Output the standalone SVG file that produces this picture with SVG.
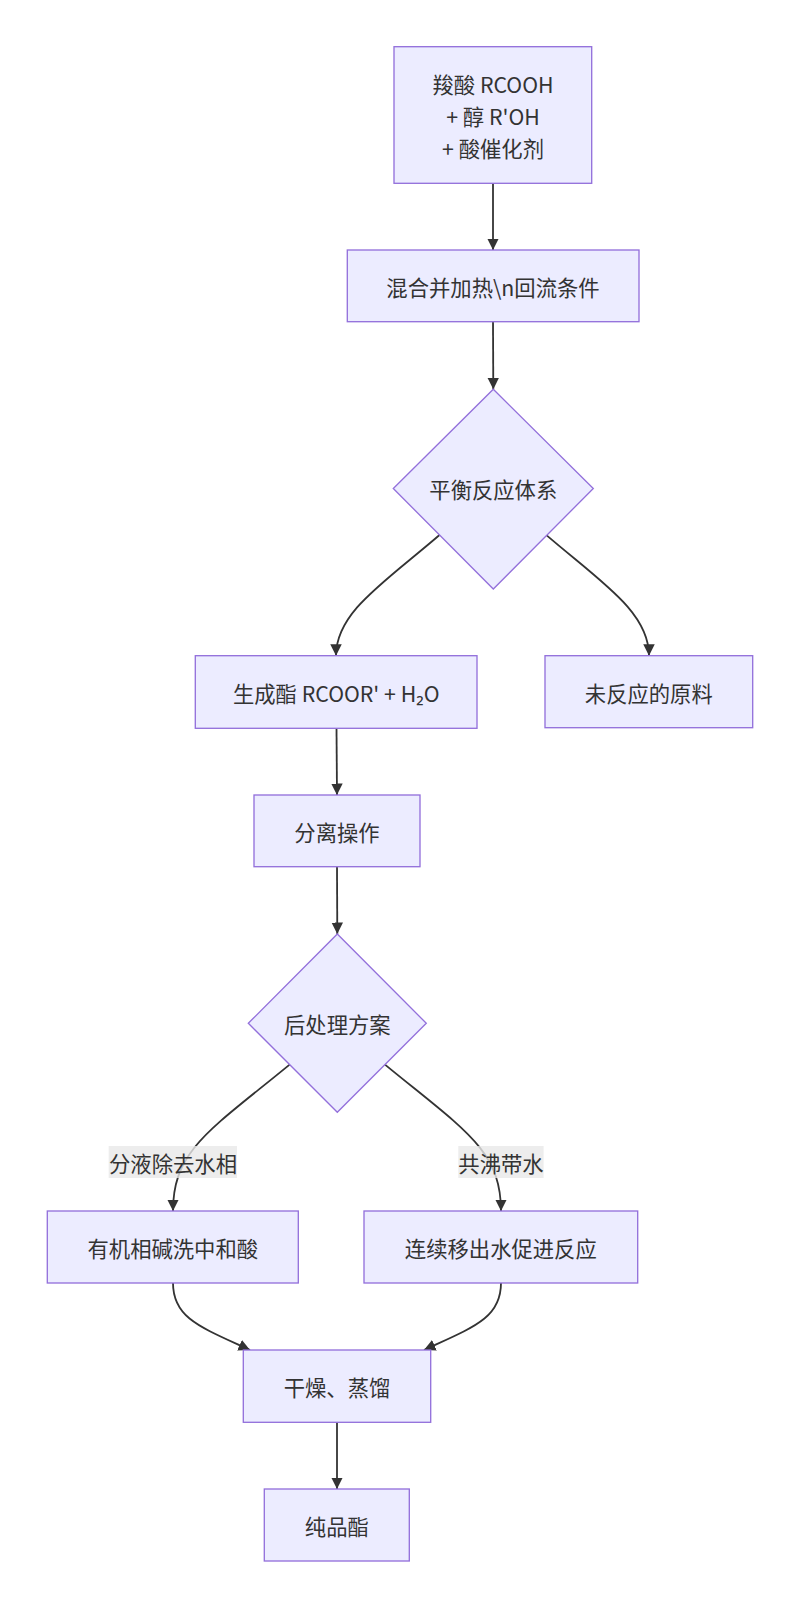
<svg xmlns="http://www.w3.org/2000/svg" width="800" height="1608" viewBox="0 0 800 1608">
<defs>
<style>
.node rect, .node polygon { fill: #ECECFF; stroke: #9370DB; stroke-width: 1.33; }
.node text, .elabel text { font-family: "Noto Sans CJK SC", "Noto Sans", sans-serif; font-size: 21.33px; fill: #333333; text-anchor: middle; dominant-baseline: central; }
.edges path { fill: none; stroke: #333333; stroke-width: 1.8; }
.elabel rect { fill: #e8e8e8; opacity: 0.8; }
</style>
<marker id="arrow" viewBox="0 0 10 10" refX="10" refY="5" markerUnits="userSpaceOnUse" markerWidth="11.5" markerHeight="11.5" orient="auto">
<path d="M0,0 L10,5 L0,10 z" fill="#333333"/>
</marker>
</defs>
<rect width="800" height="1608" fill="#ffffff"/>
<g class="edges">
<path d="M493,183.3 L493,250" marker-end="url(#arrow)"/>
<path d="M493,321.7 L493.3,389.3" marker-end="url(#arrow)"/>
<path d="M439.5,535 C385,582 336,612 336,655.7" marker-end="url(#arrow)"/>
<path d="M546.7,535.4 C601,582 649,612 649,655.7" marker-end="url(#arrow)"/>
<path d="M336.5,728.3 L337,795" marker-end="url(#arrow)"/>
<path d="M337,866.7 L337.3,934" marker-end="url(#arrow)"/>
<path d="M289.6,1064.6 C210,1130 173,1150 173,1211" marker-end="url(#arrow)"/>
<path d="M385,1064.6 C464.6,1130 501,1150 501,1211" marker-end="url(#arrow)"/>
<path d="M173,1283 C173,1318 200,1327 250,1350" marker-end="url(#arrow)"/>
<path d="M501,1283 C501,1318 474,1327 424,1350" marker-end="url(#arrow)"/>
<path d="M337,1422.3 L337,1489" marker-end="url(#arrow)"/>
</g>
<g class="elabel" id="label-fenye">
<rect x="108.7" y="1146" width="128.3" height="32"/>
<text x="173" y="1162">分液除去水相</text>
</g>
<g class="elabel" id="label-gongfei">
<rect x="458.3" y="1146" width="85.3" height="32"/>
<text x="501" y="1162">共沸带水</text>
</g>
<g class="node" id="n-start">
<rect x="394" y="46.7" width="197.7" height="136.6"/>
<text x="493" y="83">羧酸 RCOOH</text>
<text x="493" y="115">+ 醇 R'OH</text>
<text x="493" y="147">+ 酸催化剂</text>
</g>
<g class="node" id="n-mix">
<rect x="347.3" y="250" width="291.7" height="71.7"/>
<text x="493" y="286">混合并加热\n回流条件</text>
</g>
<g class="node" id="n-eq">
<polygon points="493.3,389.3 593.3,488.5 493.3,589 393.3,488.5"/>
<text x="493.3" y="488.5">平衡反应体系</text>
</g>
<g class="node" id="n-ester">
<rect x="195.3" y="655.7" width="281.7" height="72.6"/>
<text x="336.2" y="692">生成酯 RCOOR' + H₂O</text>
</g>
<g class="node" id="n-unreacted">
<rect x="545" y="655.7" width="207.7" height="72"/>
<text x="648.8" y="692">未反应的原料</text>
</g>
<g class="node" id="n-sep">
<rect x="254" y="795" width="166" height="71.7"/>
<text x="337" y="831">分离操作</text>
</g>
<g class="node" id="n-post">
<polygon points="337.3,934 426.3,1023.3 337.3,1112.3 248.3,1023.3"/>
<text x="337.3" y="1023.3">后处理方案</text>
</g>
<g class="node" id="n-wash">
<rect x="47.3" y="1211" width="251" height="72"/>
<text x="172.8" y="1247">有机相碱洗中和酸</text>
</g>
<g class="node" id="n-remove">
<rect x="364" y="1211" width="273.7" height="72"/>
<text x="500.8" y="1247">连续移出水促进反应</text>
</g>
<g class="node" id="n-dry">
<rect x="243.3" y="1350" width="187.4" height="72.3"/>
<text x="337" y="1386">干燥、蒸馏</text>
</g>
<g class="node" id="n-pure">
<rect x="264.3" y="1489" width="145" height="72"/>
<text x="336.8" y="1525">纯品酯</text>
</g>
</svg>
